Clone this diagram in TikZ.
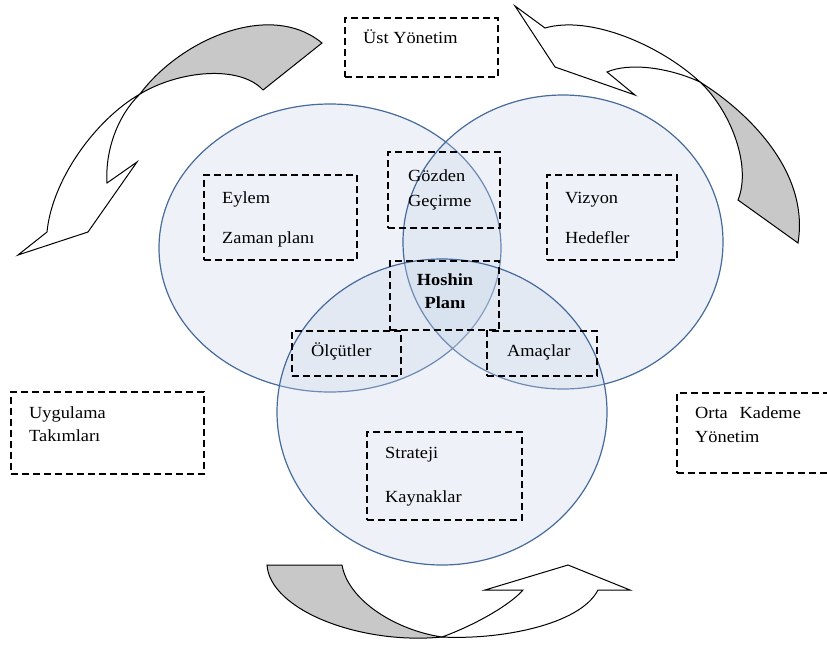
\documentclass[tikz,border=0pt]{standalone}
\usepackage{fontspec}
\setmainfont{Liberation Serif}[FakeStretch=1.08]
\definecolor{vennline}{RGB}{70,106,155}
\definecolor{vennfill}{RGB}{198,212,232}
\definecolor{ribbongray}{RGB}{200,200,200}
\tikzset{
  venn/.style={draw=vennline, line width=1.2pt, fill=vennfill, fill opacity=0.3},
  dbox/.style={draw=black, line width=1.5pt, dash pattern=on 7pt off 4pt, inner sep=0pt},
  ribbon/.style={draw=black, line width=1pt, line join=miter},
  txt/.style={anchor=base west, inner sep=0pt, font=\fontsize{17}{19}\selectfont},
  ctxt/.style={anchor=base, inner sep=0pt, font=\fontsize{17}{19}\selectfont\bfseries}
}
\begin{document}
\begin{tikzpicture}[x=1pt,y=-1pt]
\useasboundingbox (0,0) rectangle (827,646);
\clip (0,0) rectangle (827,646);

% three overlapping ellipses
\path[venn] (330,248) ellipse [x radius=171pt, y radius=144pt];
\path[venn] (563,242) ellipse [x radius=160pt, y radius=147pt];
\path[venn] (442,412) ellipse [x radius=165pt, y radius=153pt];

% top-left curved arrow
\coordinate (xa) at (140,94);
\filldraw[ribbon, fill=ribbongray] (xa) .. controls (180,40) and (270,0) .. (322,43)
  -- (263,90) .. controls (240,65) and (180,70) .. (xa) -- cycle;
\filldraw[ribbon, fill=white] (xa) .. controls (95,120) and (52,180) .. (47,232)
  -- (18,255) -- (88,232) -- (137,162) -- (107,183)
  .. controls (105,150) and (118,115) .. (xa) -- cycle;

% top-right curved arrow
\coordinate (xb) at (700,82);
\filldraw[ribbon, fill=ribbongray] (xb) .. controls (745,110) and (810,170) .. (798,243)
  -- (738,200) .. controls (752,165) and (730,110) .. (xb) -- cycle;
\filldraw[ribbon, fill=white] (515,6) -- (545,28) .. controls (590,15) and (660,45) .. (xb)
  .. controls (670,68) and (630,62) .. (607,72) -- (635,95) -- (555,67) -- cycle;

% bottom curved arrow
\coordinate (xc) at (442,637);
\filldraw[ribbon, fill=ribbongray] (267,565) -- (342,565)
  .. controls (348,600) and (395,630) .. (xc)
  .. controls (360,645) and (270,610) .. (267,565) -- cycle;
\filldraw[ribbon, fill=white] (xc) .. controls (475,625) and (510,605) .. (523,590)
  -- (485,590) -- (568,565) -- (630,590) -- (598,590)
  .. controls (580,625) and (500,640) .. (xc) -- cycle;

% dashed frames
\node[dbox, minimum width=153pt, minimum height=59pt] (ust) at (421.5,47.5) {};
\node[dbox, minimum width=153pt, minimum height=85pt] (eylem) at (280.5,217.5) {};
\node[dbox, minimum width=112pt, minimum height=76pt] (gozden) at (444,190) {};
\node[dbox, minimum width=130pt, minimum height=85pt] (vizyon) at (612,217.5) {};
\node[dbox, minimum width=109pt, minimum height=69pt] (hoshin) at (444.5,295.5) {};
\node[dbox, minimum width=109pt, minimum height=45pt] (olcut) at (346.5,353.5) {};
\node[dbox, minimum width=110pt, minimum height=45pt] (amac) at (542,353.5) {};
\node[dbox, minimum width=155pt, minimum height=88pt] (strat) at (444.5,476) {};
\node[dbox, minimum width=193pt, minimum height=82pt] (uygul) at (107.5,433) {};
\node[dbox, minimum width=163pt, minimum height=80pt] (orta) at (758.5,433) {};

% labels
\node[txt] (t1) at (363,43) {Üst Yönetim};
\node[txt] (t2) at (222,203) {Eylem};
\node[txt] (t3) at (222,243) {Zaman planı};
\node[txt] (t4) at (408,181) {Gözden};
\node[txt] (t5) at (408,206) {Geçirme};
\node[txt] (t6) at (565,203) {Vizyon};
\node[txt] (t7) at (565,243) {Hedefler};
\node[ctxt] (t8) at (445,285) {Hoshin};
\node[ctxt] (t9) at (445,308) {Planı};
\node[txt] (t10) at (311,356) {Ölçütler};
\node[txt] (t11) at (507,356) {Amaçlar};
\node[txt] (t12) at (385,458) {Strateji};
\node[txt] (t13) at (385,502) {Kaynaklar};
\node[txt] (t14) at (29,418) {Uygulama};
\node[txt] (t15) at (29,441) {Takımları};
\node[txt] (t16) at (695,418) {Orta\hspace{0.7em}Kademe};
\node[txt] (t17) at (695,442) {Yönetim};
\end{tikzpicture}
\end{document}
